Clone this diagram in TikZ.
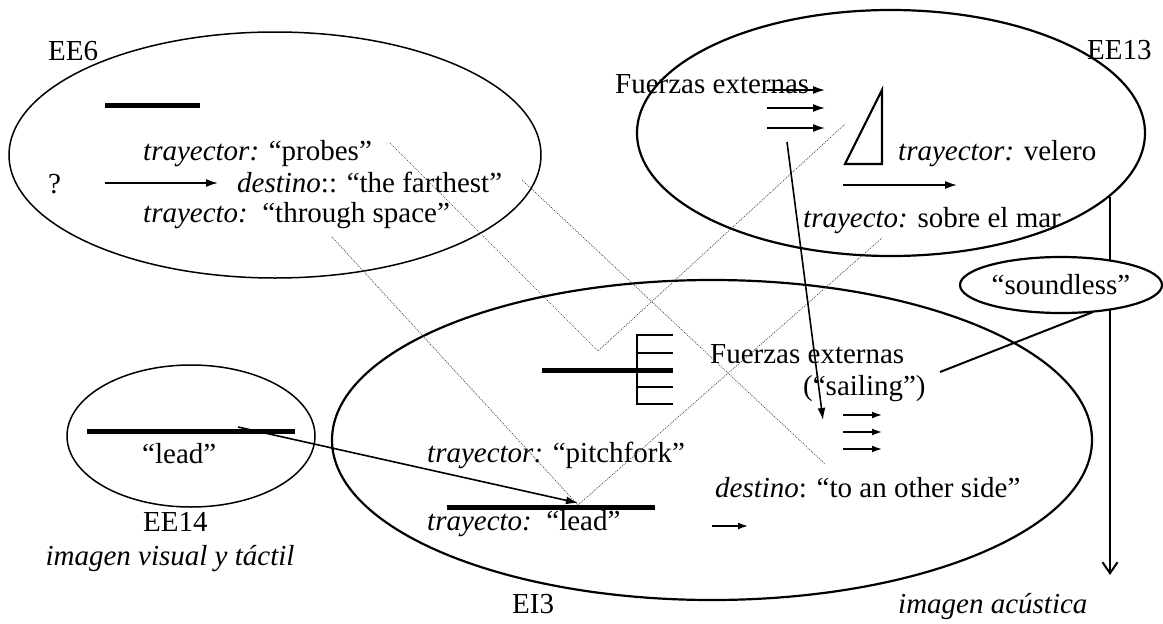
\documentclass[tikz,border=0pt]{standalone}
\usepackage{fontspec}
\setmainfont{Liberation Serif}
\usetikzlibrary{arrows.meta,shapes.geometric}
\begin{document}
\begin{tikzpicture}[x=1pt,y=-1pt,
  txt/.style={font=\fontsize{29}{34}\selectfont, inner sep=0pt, anchor=base west},
  oval/.style={draw, ellipse, inner sep=0pt, line width=#1},
  bar/.style={line width=5pt},
  thin/.style={line width=1.8pt},
  arr/.style={line width=1.6pt, -{Latex[length=12pt,width=8pt]}},
  sarr/.style={line width=1.6pt, -{Latex[length=10pt,width=7pt]}},
  link/.style={draw=black!75, line width=0.7pt, dash pattern=on 1pt off 1.2pt},
]
\useasboundingbox (0,0) rectangle (1163,624);

% ---- ellipses
\node[oval=1.5pt, minimum width=532pt, minimum height=246pt] (EE6e) at (275,155) {};
\node[oval=2.2pt, minimum width=508pt, minimum height=246pt] (EE13e) at (891,133) {};
\node[oval=2.2pt, minimum width=760pt, minimum height=320pt] (EI3e) at (712,440) {};
\node[oval=1.5pt, minimum width=248pt, minimum height=142pt] (EE14e) at (191,436) {};

% ---- labels
\node[txt] (ee6) at (48,60) {EE6};
\node[txt] (ee13) at (1087,59) {EE13};
\node[txt] (fz1) at (615,93) {Fuerzas externas};
\node[txt] (probes) at (143,160) {\textit{trayector:} “probes”};
\node[txt] (q) at (48,193) {?};
\node[txt] (farthest) at (237,192) {\textit{destino}:: “the farthest”};
\node[txt] (space) at (143,222) {\textit{trayecto:}\ \ “through space”};
\node[txt] (velero) at (898,160) {\textit{trayector:} velero};
\node[txt] (mar) at (803,227) {\textit{trayecto:} sobre el mar};
\node[txt] (fz2) at (710,363) {Fuerzas externas};
\node[txt] (sailing) at (803,395) {(“sailing”)};
\node[txt] (side) at (715,497) {\textit{destino}: “to an other side”};
\node[txt] (pitch) at (427,462) {\textit{trayector:} “pitchfork”};
\node[txt] (lead2) at (427,530) {\textit{trayecto:}\ \ “lead”};
\node[txt] (lead1) at (142,463) {“lead”};
\node[txt] (ee14) at (143,531) {EE14};
\node[txt, anchor=base] (vis) at (170,565) {\textit{imagen visual y táctil}};
\node[txt] (ei3) at (512,613) {EI3};
\node[txt] (acu) at (898,613) {\textit{imagen acústica}};

% ---- coordinates
\coordinate (b6a) at (105,105); \coordinate (b6b) at (200,105);
\coordinate (q1) at (105,183); \coordinate (q2) at (218,183);
\coordinate (f1a) at (767,90);  \coordinate (f1b) at (825,90);
\coordinate (f2a) at (767,108); \coordinate (f2b) at (825,108);
\coordinate (f3a) at (767,128); \coordinate (f3b) at (825,128);
\coordinate (t1) at (845,164); \coordinate (t2) at (882,90); \coordinate (t3) at (882,164);
\coordinate (va) at (843,185); \coordinate (vb) at (957,185);
\coordinate (fs) at (787,142); \coordinate (fe) at (823,420);
\coordinate (vt) at (1110,197); \coordinate (vbt) at (1110,575);
\coordinate (ss) at (1093,312); \coordinate (se) at (940,372);
\coordinate (g1a) at (843,415); \coordinate (g1b) at (882,415);
\coordinate (g2a) at (843,432); \coordinate (g2b) at (882,432);
\coordinate (g3a) at (843,449); \coordinate (g3b) at (882,449);
\coordinate (sa) at (712,526); \coordinate (sb) at (748,526);
\coordinate (ha) at (542,370); \coordinate (hb) at (673,370);
\coordinate (p1) at (673,335); \coordinate (p1c) at (637,335);
\coordinate (p2) at (673,353); \coordinate (p2c) at (637,353);
\coordinate (p4) at (673,387); \coordinate (p4c) at (637,387);
\coordinate (p5) at (673,404); \coordinate (p5c) at (637,404);
\coordinate (la) at (447,507); \coordinate (lb) at (655,507);
\coordinate (ea) at (87,431); \coordinate (eb) at (295,431);
\coordinate (ls) at (238,427); \coordinate (le) at (578,503);
% dotted link points
\coordinate (d1a) at (390,143); \coordinate (d1v) at (598,351); \coordinate (d1b) at (845,124);
\coordinate (d2a) at (522,180); \coordinate (d2b) at (825,464);
\coordinate (d3a) at (332,237); \coordinate (d3v) at (578,505); \coordinate (d3b) at (882,238);

% ---- dotted correspondences
\draw[link] (d1a) -- (d1v) -- (d1b);
\draw[link] (d2a) -- (d2b);
\draw[link] (d3a) -- (d3v) -- (d3b);

% ---- EE6 content
\draw[bar] (b6a) -- (b6b);
\draw[arr] (q1) -- (q2);

% ---- EE13 content
\draw[arr] (f1a) -- (f1b);
\draw[arr] (f2a) -- (f2b);
\draw[arr] (f3a) -- (f3b);
\draw[line width=2.2pt, line join=miter] (t1) -- (t2) -- (t3) -- cycle;
\draw[arr] (va) -- (vb);
\draw[arr] (fs) -- (fe);

% ---- acoustic arrow and soundless
\draw[line width=2pt, -{Straight Barb[length=11pt,width=15pt,line width=2pt]}] (vt) -- (vbt);
\node[draw, ellipse, line width=2.2pt, fill=white, inner sep=0pt,
      minimum width=202pt, minimum height=56pt,
      font=\fontsize{29}{34}\selectfont] (sound) at (1061,285) {“soundless”};
\draw[line width=2pt] (ss) -- (se);

% ---- EI3 content
\draw[sarr] (g1a) -- (g1b);
\draw[sarr] (g2a) -- (g2b);
\draw[sarr] (g3a) -- (g3b);
\draw[sarr] (sa) -- (sb);
\draw[bar] (ha) -- (hb);
\draw[thin, line join=miter] (p1) -- (p1c) -- (p5c) -- (p5);
\draw[thin] (p2c) -- (p2);
\draw[thin] (p4c) -- (p4);
\draw[bar] (la) -- (lb);

% ---- EE14 content
\draw[bar] (ea) -- (eb);
\draw[arr] (ls) -- (le);
\end{tikzpicture}
\end{document}
